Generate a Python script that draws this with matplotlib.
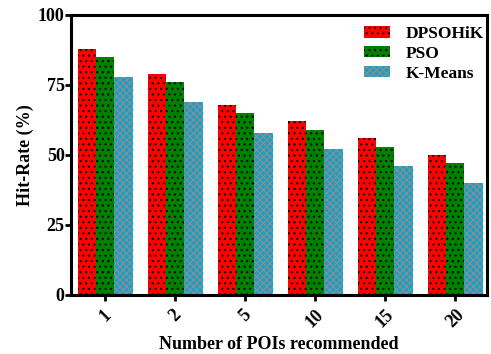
import numpy as np
import matplotlib.pyplot as plt

plt.rcParams['font.family'] = 'Liberation Serif'
plt.rcParams['font.weight'] = 'bold'
plt.rcParams['hatch.linewidth'] = 0.8

categories = ['1', '2', '5', '10', '15', '20']
dpsohik = [88, 79, 68, 62, 56, 50]
pso = [85, 76, 65, 59, 53, 47]
kmeans = [78, 69, 58, 52, 46, 40]

series = [('DPSOHiK', dpsohik, '#ff0000', 'black', '...'),
          ('PSO', pso, '#008000', 'black', '...'),
          ('K-Means', kmeans, '#1a9fc0', '#8a8f94', 'xxxxx')]

fig = plt.figure(figsize=(4.91, 3.54), dpi=100)
ax = fig.add_axes([0.1446, 0.1667, 0.8473, 0.791])

x = np.arange(len(categories))
w = 0.262
for i, (name, vals, col, hc, hatch) in enumerate(series):
    ax.bar(x + (i - 1) * w, vals, w, color=col, edgecolor=hc, linewidth=0,
           hatch=hatch, label=name)

ax.set_xlim(-0.486, 5.457)
ax.set_ylim(0, 100)
ax.set_yticks([0, 25, 50, 75, 100])
ax.set_xticks(x)
ax.set_xticklabels(categories, rotation=45, fontsize=13, fontweight='bold',
                   ha='center', va='top')
for lab in ax.get_yticklabels():
    lab.set_fontsize(13)
    lab.set_fontweight('bold')
for s in ax.spines.values():
    s.set_linewidth(2.2)
ax.tick_params(width=2, length=4)
ax.tick_params(axis='x', pad=4)
ax.tick_params(axis='y', pad=0.5)

ax.set_xlabel('Number of POIs recommended', fontsize=13, fontweight='bold',
              labelpad=4)
ax.set_ylabel('Hit-Rate (%)', fontsize=13, fontweight='bold', labelpad=3)

ax.legend(loc='upper right', bbox_to_anchor=(1.01, 0.985), frameon=False,
          prop={'size': 12.5, 'weight': 'bold'},
          handlelength=1.5, handleheight=0.6, handletextpad=0.9,
          borderaxespad=0.0, labelspacing=0.22)

fig.savefig('out.png', dpi=100)
